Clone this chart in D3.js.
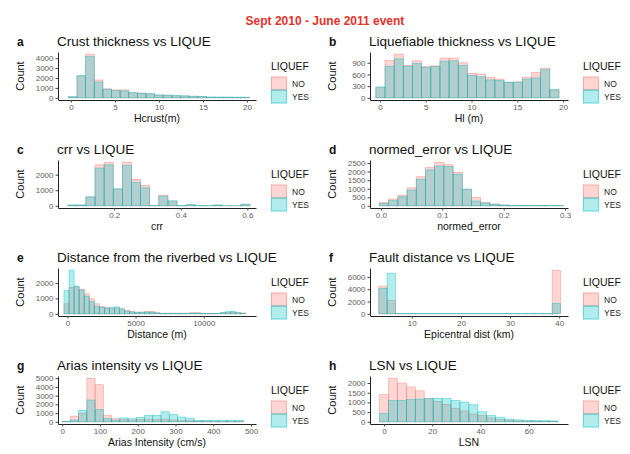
<!DOCTYPE html>
<html>
<head>
<meta charset="utf-8">
<script src="https://cdn.jsdelivr.net/npm/d3@7"></script>
<style>
  body { margin: 0; background: #fff; }
  svg { display: block; font-family: "Liberation Sans", Arial, sans-serif; }
</style>
</head>
<body>
<div id="chart"></div>
<script>
// counts per bin (NO drawn first, YES over it)
const crustNo  = [60, 2200, 4400, 1800, 900, 800, 800, 500, 480, 380, 250, 250, 200, 180, 130, 120, 40, 30, 30, 20, 20];
const crustYes = [150, 2250, 4150, 1600, 880, 720, 700, 520, 450, 430, 300, 280, 220, 200, 170, 150, 90, 80, 80, 70, 60];

const hlNo  = [260, 960, 1120, 830, 950, 800, 820, 1020, 1020, 900, 630, 610, 530, 480, 400, 410, 520, 650, 760, 200];
const hlYes = [280, 810, 1000, 810, 880, 780, 800, 940, 950, 830, 580, 540, 460, 450, 400, 400, 480, 510, 720, 210];

const crrNo  = [40, 40, 560, 2630, 2780, 1050, 2800, 1700, 1300, 10, 680, 300, 10, 60, 10, 10, 40, 5, 5, 90];
const crrYes = [60, 60, 580, 2420, 2630, 1100, 2590, 1500, 1150, 20, 620, 320, 20, 80, 20, 20, 60, 10, 10, 110];

const errNo  = [200, 400, 620, 1050, 1700, 2250, 2550, 2400, 1950, 950, 500, 200, 100, 40, 30, 20, 20, 15, 10, 10];
const errYes = [130, 300, 530, 920, 1560, 2100, 2330, 2300, 1850, 980, 280, 160, 100, 50, 30, 20, 20, 15, 10, 10];

const riverNo  = [650, 1700, 1750, 1600, 1300, 970, 650, 480, 420, 350, 380, 300, 220, 150, 110, 120, 150, 160, 70, 40,
                  40, 40, 40, 40, 40, 70, 70, 40, 30, 30, 30, 60, 80, 100, 70, 60];
const riverYes = [1500, 2830, 1800, 1550, 1150, 800, 500, 420, 350, 430, 450, 330, 180, 120, 100, 100, 110, 100, 60, 30,
                  30, 30, 30, 30, 30, 40, 40, 30, 30, 30, 30, 100, 140, 160, 80, 30];

const faultNo  = [4500, 2200, 20, 20, 20, 20, 20, 20, 20, 20, 20, 20, 20, 20, 20, 20, 20, 20, 20, 20, 20, 7100];
const faultYes = [4150, 6600, 60, 60, 60, 60, 60, 60, 60, 60, 60, 60, 60, 60, 60, 60, 60, 60, 60, 60, 60, 1700];

const ariasNo  = [30, 650, 1000, 5000, 4250, 750, 350, 250, 200, 250, 300, 250, 300, 200, 150, 120, 80, 60, 60, 60, 60, 60];
const ariasYes = [50, 200, 1300, 2500, 1400, 380, 200, 450, 350, 500, 750, 750, 1150, 850, 550, 420, 180, 180, 180, 180, 180, 180];

const lsnNo  = [1400, 2250, 2000, 1800, 1600, 1200, 1050, 900, 700, 560, 400, 320, 200, 120, 80, 50, 40, 30, 20, 20];
const lsnYes = [420, 1100, 1100, 1150, 1170, 1200, 1220, 1200, 1100, 1020, 880, 520, 320, 240, 140, 100, 80, 70, 60, 50];

const groups = ['NO', 'YES'];

const panels = [
  { letter: 'a', title: 'Crust thickness vs LIQUE', xlab: 'Hcrust(m)', x0: -0.3, bw: 0.98, no: crustNo, yes: crustYes,
    xlim: [-1.48, 21.02], xticks: [0, 5, 10, 15, 20], yticks: [0, 1000, 2000, 3000, 4000] },
  { letter: 'b', title: 'Liquefiable thickness vs LIQUE', xlab: 'Hl (m)', x0: -0.45, bw: 1.0, no: hlNo, yes: hlYes,
    xlim: [-1.09, 20.54], xticks: [0, 5, 10, 15, 20], yticks: [0, 300, 600, 900] },
  { letter: 'c', title: 'crr vs LIQUE', xlab: 'crr', x0: 0.06, bw: 0.0274, no: crrNo, yes: crrYes,
    xlim: [0.031, 0.626], xticks: [0.2, 0.4, 0.6], yticks: [0, 1000, 2000], fmt: d3.format('.1f') },
  { letter: 'd', title: 'normed_error vs LIQUE', xlab: 'normed_error', x0: -0.0025, bw: 0.015, no: errNo, yes: errYes,
    xlim: [-0.0178, 0.3047], xticks: [0, 0.1, 0.2, 0.3], yticks: [0, 500, 1000, 1500, 2000, 2500], fmt: d3.format('.1f') },
  { letter: 'e', title: 'Distance from the riverbed vs LIQUE', xlab: 'Distance (m)', x0: -250, bw: 370, no: riverNo, yes: riverYes,
    xlim: [-689, 13830], xticks: [0, 5000, 10000], yticks: [0, 1000, 2000] },
  { letter: 'f', title: 'Fault distance vs LIQUE', xlab: 'Epicentral dist (km)', x0: 3.3, bw: 1.68, no: faultNo, yes: faultYes,
    xlim: [1.5, 41.8], xticks: [10, 20, 30, 40], yticks: [0, 2000, 4000, 6000] },
  { letter: 'g', title: 'Arias intensity vs LIQUE', xlab: 'Arias Intensity (cm/s)', x0: 0, bw: 21.8, no: ariasNo, yes: ariasYes,
    xlim: [-11, 513], xticks: [0, 100, 200, 300, 400, 500], yticks: [0, 1000, 2000, 3000, 4000, 5000] },
  { letter: 'h', title: 'LSN vs LIQUE', xlab: 'LSN', x0: -1.8, bw: 3.7, no: lsnNo, yes: lsnYes,
    xlim: [-5.8, 76.3], xticks: [0, 20, 40, 60], yticks: [0, 500, 1000, 1500, 2000] }
];

const W = 630, H = 454;
const COL_X = [58, 370];
const ROW_TOP = [52, 160, 268, 376];
const PW = 198, PH = 48;
const color = { NO: '#F8766D', YES: '#00BFC4' };
const ALPHA = 0.3;
const plain = d3.format('d');

const svg = d3.select('#chart').append('svg').attr('width', W).attr('height', H);

svg.append('text')
  .attr('x', 325).attr('y', 25)
  .attr('text-anchor', 'middle')
  .attr('font-size', 12).attr('font-weight', 'bold')
  .attr('fill', '#e3322b')
  .text('Sept 2010 - June 2011 event');

function drawPanel(p, i) {
  const left = COL_X[i % 2];
  const top = ROW_TOP[Math.floor(i / 2)];
  const g = svg.append('g').attr('transform', `translate(${left},${top})`);

  const x = d3.scaleLinear().domain(p.xlim).range([0, PW]);
  const m = d3.max(p.no.concat(p.yes));
  const y = d3.scaleLinear().domain([-0.05 * m, 1.05 * m]).range([PH, 0]);

  // overlapping histograms, NO first then YES
  [['NO', p.no], ['YES', p.yes]].forEach(([key, counts]) => {
    const bins = counts.map((n, k) => ({ x1: p.x0 + k * p.bw, x2: p.x0 + (k + 1) * p.bw, n: n }));
    g.append('g').selectAll('rect')
      .data(bins)
      .join('rect')
      .attr('x', d => x(d.x1))
      .attr('width', d => x(d.x2) - x(d.x1))
      .attr('y', d => y(d.n))
      .attr('height', d => y(0) - y(d.n))
      .attr('fill', color[key]).attr('fill-opacity', ALPHA)
      .attr('stroke', color[key]).attr('stroke-opacity', 0.55).attr('stroke-width', 0.7);
  });

  const xAxis = d3.axisBottom(x).tickValues(p.xticks).tickSize(2.5).tickSizeOuter(0).tickPadding(2)
    .tickFormat(p.fmt || plain);
  const gx = g.append('g').attr('transform', `translate(0,${PH})`).call(xAxis);
  const gy = g.append('g').call(d3.axisLeft(y).tickValues(p.yticks).tickFormat(plain)
    .tickSize(2.5).tickSizeOuter(0).tickPadding(2));

  [gx, gy].forEach(ax => {
    ax.attr('font-family', null).attr('font-size', 8);
    ax.select('.domain').attr('stroke', '#222').attr('stroke-width', 1);
    ax.selectAll('.tick line').attr('stroke', '#444');
    ax.selectAll('.tick text').attr('fill', '#606060');
  });

  g.append('text').attr('x', -41).attr('y', -6)
    .attr('font-size', 12).attr('font-weight', 'bold').attr('fill', '#111')
    .text(p.letter);
  g.append('text').attr('x', -1).attr('y', -6)
    .attr('font-size', 13.5).attr('fill', '#111')
    .text(p.title);
  g.append('text')
    .attr('transform', `translate(-34,${PH / 2}) rotate(-90)`)
    .attr('text-anchor', 'middle').attr('font-size', 11).attr('fill', '#111')
    .text('Count');
  g.append('text').attr('x', PW / 2).attr('y', PH + 22)
    .attr('text-anchor', 'middle').attr('font-size', 10.5).attr('fill', '#111')
    .text(p.xlab);

  // legend
  const lg = g.append('g').attr('transform', `translate(${PW + 15},0)`);
  lg.append('text').attr('x', 0).attr('y', 18).attr('font-size', 10.5).attr('fill', '#111').text('LIQUEF');
  groups.forEach((key, k) => {
    const ky = 25 + k * 13;
    lg.append('rect').attr('x', 0.5).attr('y', ky).attr('width', 15).attr('height', 13)
      .attr('fill', color[key]).attr('fill-opacity', ALPHA)
      .attr('stroke', color[key]).attr('stroke-opacity', 0.7).attr('stroke-width', 0.8);
    lg.append('text').attr('x', 21).attr('y', ky + 9.5)
      .attr('font-size', 8.5).attr('fill', '#222').text(key);
  });
}

panels.forEach(drawPanel);
</script>
</body>
</html>
